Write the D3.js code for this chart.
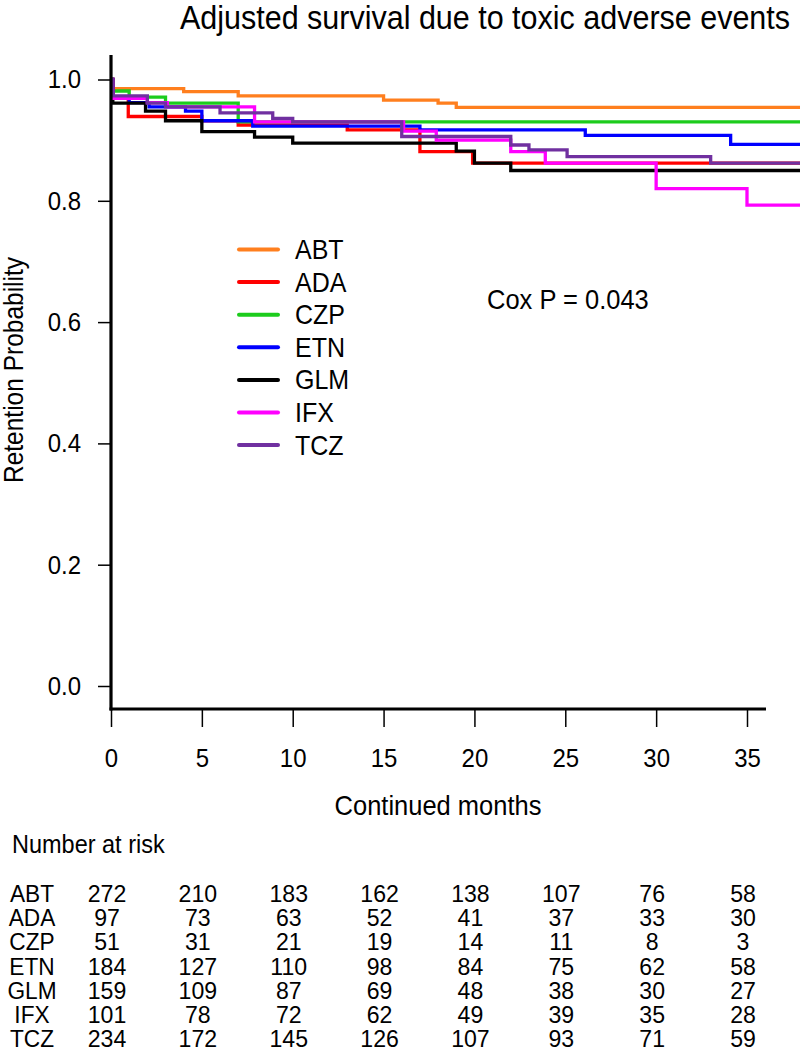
<!DOCTYPE html>
<html><head><meta charset="utf-8">
<script src="https://cdn.jsdelivr.net/npm/d3@7"></script>
<style>
html,body{margin:0;padding:0;background:#fff;}
text{font-family:"Liberation Sans",Arial,Helvetica,sans-serif;fill:#000;}
</style></head>
<body>
<svg id="chart" width="800" height="1053"></svg>
<script>
// ---- data ----
const groups = ["ABT","ADA","CZP","ETN","GLM","IFX","TCZ"];
const colors = ["#ff7f1e","#ff0000","#1ccc1c","#0000ff","#000000","#ff00ff","#7030a0"];
const abtTimes = [0,0.1,4.0,7.0,15.0,18.0,19.0];
const abtSurv  = [1,0.985,0.980,0.973,0.966,0.961,0.954];
const adaTimes = [0,0.1,0.95,5.0,7.0,13.0,17.0,19.9];
const adaSurv  = [1,0.969,0.939,0.932,0.925,0.917,0.881,0.862];
const czpTimes = [0,0.1,1.0,3.0,7.0];
const czpSurv  = [1,0.981,0.971,0.961,0.930];
const etnTimes = [0,0.1,1.0,2.1,4.1,5.0,7.8,17.0,26.1,34.1];
const etnSurv  = [1,0.969,0.962,0.955,0.948,0.932,0.923,0.917,0.908,0.893];
const glmTimes = [0,0.1,1.9,3.0,5.0,7.9,10.0,19.0,20.0,22.0];
const glmSurv  = [1,0.961,0.948,0.932,0.914,0.905,0.895,0.882,0.862,0.850];
const ifxTimes = [0,0.1,2.0,3.1,7.9,16.1,17.9,22.0,23.9,30.0,35.0];
const ifxSurv  = [1,0.969,0.962,0.955,0.930,0.915,0.900,0.881,0.862,0.820,0.793];
const tczTimes = [0,0.1,2.0,3.0,6.0,8.9,10.0,16.0,22.0,23.0,25.1,33.0];
const tczSurv  = [1,0.973,0.961,0.955,0.945,0.936,0.930,0.906,0.892,0.884,0.873,0.862];
const endTime = 38;
const xTicks = [0,5,10,15,20,25,30,35];
const yTicks = [0,0.2,0.4,0.6,0.8,1.0];
const riskABT = [272,210,183,162,138,107,76,58];
const riskADA = [97,73,63,52,41,37,33,30];
const riskCZP = [51,31,21,19,14,11,8,3];
const riskETN = [184,127,110,98,84,75,62,58];
const riskGLM = [159,109,87,69,48,38,30,27];
const riskIFX = [101,78,72,62,49,39,35,28];
const riskTCZ = [234,172,145,126,107,93,71,59];
const titleText = "Adjusted survival due to toxic adverse events";
const xLabel = "Continued months";
const yLabel = "Retention Probability";
const coxText = "Cox P = 0.043";

const seriesTimes = [abtTimes,adaTimes,czpTimes,etnTimes,glmTimes,ifxTimes,tczTimes];
const seriesSurv = [abtSurv,adaSurv,czpSurv,etnSurv,glmSurv,ifxSurv,tczSurv];
const riskRows = [riskABT,riskADA,riskCZP,riskETN,riskGLM,riskIFX,riskTCZ];

// ---- layout ----
const svg = d3.select("#chart");
const x = d3.scaleLinear().domain([0,35]).range([111,747]);
const y = d3.scaleLinear().domain([0,1]).range([686,79.5]);
const axisY = 709;
const SY = 1.1; // vertical stretch of glyphs

function txt(parent, tx, ty, str, size, anchor, rot, sx, sy){
  return parent.append("text")
    .attr("transform", `translate(${tx},${ty})` + (rot ? ` rotate(${rot})` : "") +
      ` scale(${sx || 1},${sy || SY})`)
    .attr("text-anchor", anchor || "start")
    .style("font-size", size + "px").text(str);
}

// title
txt(svg, 485, 29, titleText, 30.5, "middle");

// curves
const line = d3.line().x(d=>x(d[0])).y(d=>y(d[1])).curve(d3.curveStepAfter);
groups.forEach((g,i)=>{
  const pts = seriesTimes[i].map((t,j)=>[t,seriesSurv[i][j]]);
  pts.push([endTime, seriesSurv[i][seriesSurv[i].length-1]]);
  svg.append("path").datum(pts).attr("d",line)
    .attr("fill","none").attr("stroke",colors[i]).attr("stroke-width",3.3);
});

// y axis
const yAx = svg.append("g").attr("transform","translate(111,0)")
  .call(d3.axisLeft(y).tickValues(yTicks).tickFormat(d3.format(".1f")).tickSize(13).tickPadding(17));
yAx.select(".domain").remove();
yAx.selectAll(".tick line").attr("stroke","#000").attr("stroke-width",1.5);
yAx.selectAll(".tick text").style("font-size","24px").attr("font-family",null)
  .attr("transform",`scale(1,${SY})`);
svg.append("line").attr("x1",111).attr("x2",111).attr("y1",55).attr("y2",axisY+1.5)
  .attr("stroke","#000").attr("stroke-width",3.2);

// x axis
const xAx = svg.append("g").attr("transform",`translate(0,${axisY})`)
  .call(d3.axisBottom(x).tickValues(xTicks).tickSize(18).tickPadding(18));
xAx.select(".domain").remove();
xAx.selectAll(".tick line").attr("stroke","#000").attr("stroke-width",1.5);
xAx.selectAll(".tick text").style("font-size","24px").attr("font-family",null)
  .attr("transform",`scale(1,${SY})`);
svg.append("line").attr("x1",109.5).attr("x2",766).attr("y1",axisY).attr("y2",axisY)
  .attr("stroke","#000").attr("stroke-width",3.2);

// axis titles
txt(svg, 438, 815, xLabel, 25.5, "middle");
txt(svg, 23, 370, yLabel, 24.5, "middle", -90);

// legend
groups.forEach((g,i)=>{
  const ly = 249.5 + i*32.6;
  svg.append("line").attr("x1",239).attr("x2",278).attr("y1",ly).attr("y2",ly)
    .attr("stroke",colors[i]).attr("stroke-width",4).attr("stroke-linecap","round");
  txt(svg, 295, ly+9.5, g, 25, "start");
});

// cox text
txt(svg, 487, 309, coxText, 25.5, "start");

// number at risk
txt(svg, 12, 853, "Number at risk", 23.5, "start");
groups.forEach((g,i)=>{
  const ry = 902 + i*24.2;
  txt(svg, 32, ry, g, 21, "middle", 0, 1.08, 1.12);
  riskRows[i].forEach((v,j)=>{
    txt(svg, x(xTicks[j])-4, ry, v, 21, "middle", 0, 1.1, 1.12);
  });
});
</script>
</body></html>
